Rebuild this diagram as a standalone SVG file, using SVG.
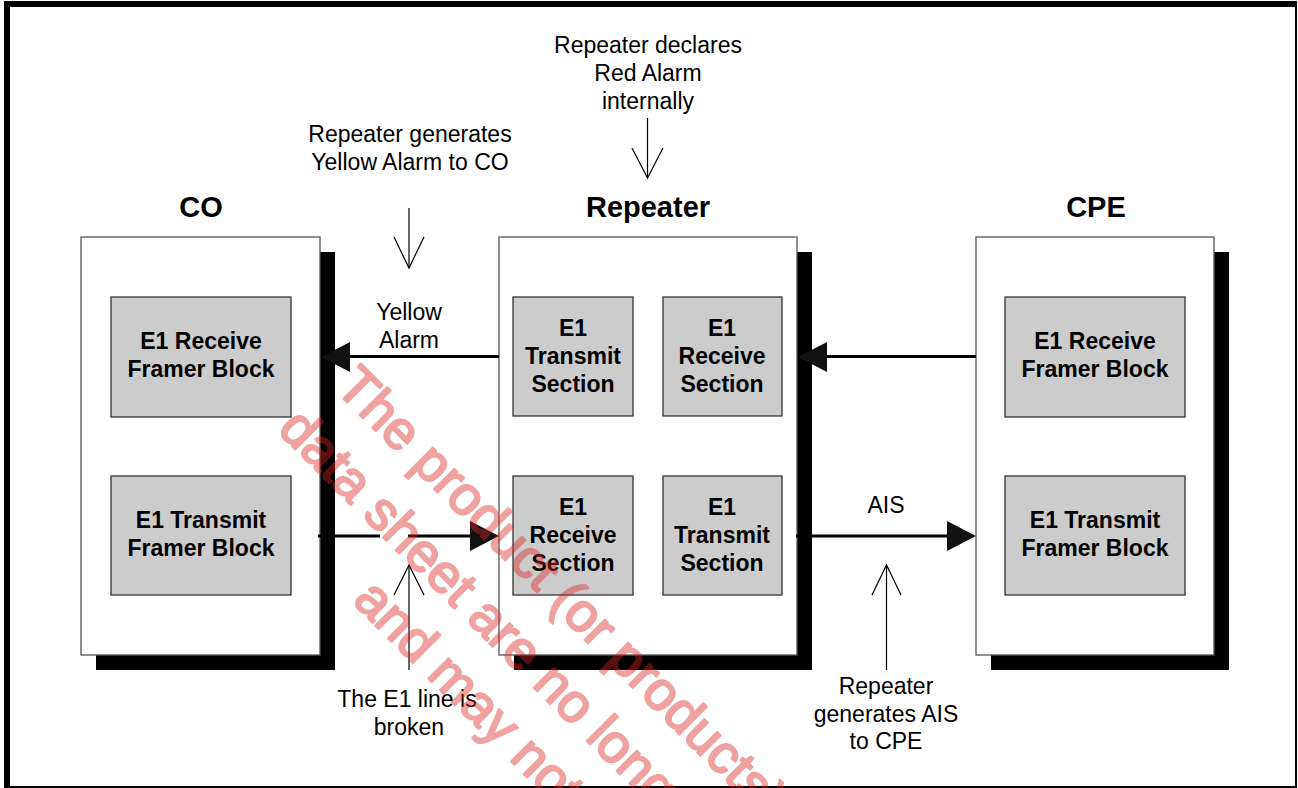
<svg xmlns="http://www.w3.org/2000/svg" width="1298" height="788" viewBox="0 0 1298 788">
<defs>
<style>
.frame{fill:#000}
.shadow{fill:#000}
.outer{fill:#fff;stroke:#555;stroke-width:1.3}
.inner{fill:#cccccc;stroke:#333;stroke-width:1.3}
.title{font-family:"Liberation Sans",Arial,sans-serif;font-weight:bold;font-size:29px;fill:#000;text-anchor:middle}
.blk{font-family:"Liberation Sans",Arial,sans-serif;font-weight:bold;font-size:23px;fill:#000;text-anchor:middle}
.lbl{font-family:"Liberation Sans",Arial,sans-serif;font-size:23px;fill:#000;text-anchor:middle}
.thick{stroke:#000;stroke-width:3;fill:none}
.thin{stroke:#000;stroke-width:1.2;fill:none}
.head{fill:#111}
.wm{font-family:"Liberation Sans",Arial,sans-serif;font-size:54px;fill:#dd2222;stroke:#dd2222;stroke-width:2.2;stroke-linejoin:round}
</style>
</defs>
<rect width="1298" height="788" fill="#fff"/>
<g id="frame">
<rect class="frame" x="4" y="1" width="1293" height="6"/>
<rect class="frame" x="4" y="1" width="6" height="787"/>
<rect class="frame" x="1295" y="1" width="2" height="787"/>
<rect class="frame" x="4" y="786" width="1293" height="2"/>
</g>
<g id="co">
<text class="title" x="201" y="217">CO</text>
<rect class="shadow" x="96" y="252" width="239" height="418"/>
<rect class="outer" x="81" y="237" width="239" height="418"/>
<rect class="inner" x="111" y="297" width="180" height="120"/>
<text class="blk" x="201" y="349">E1 Receive</text>
<text class="blk" x="201" y="377">Framer Block</text>
<rect class="inner" x="111" y="476" width="180" height="119"/>
<text class="blk" x="201" y="528">E1 Transmit</text>
<text class="blk" x="201" y="556">Framer Block</text>
</g>
<g id="repeater">
<text class="title" x="648" y="217">Repeater</text>
<rect class="shadow" x="514" y="252" width="298" height="418"/>
<rect class="outer" x="499" y="237" width="298" height="418"/>
<rect class="inner" x="513" y="297" width="120" height="119"/>
<text class="blk" x="573" y="336">E1</text>
<text class="blk" x="573" y="364">Transmit</text>
<text class="blk" x="573" y="392">Section</text>
<rect class="inner" x="663" y="297" width="119" height="119"/>
<text class="blk" x="722" y="336">E1</text>
<text class="blk" x="722" y="364">Receive</text>
<text class="blk" x="722" y="392">Section</text>
<rect class="inner" x="513" y="476" width="120" height="119"/>
<text class="blk" x="573" y="515">E1</text>
<text class="blk" x="573" y="543">Receive</text>
<text class="blk" x="573" y="571">Section</text>
<rect class="inner" x="663" y="476" width="119" height="119"/>
<text class="blk" x="722" y="515">E1</text>
<text class="blk" x="722" y="543">Transmit</text>
<text class="blk" x="722" y="571">Section</text>
</g>
<g id="cpe">
<text class="title" x="1096" y="217">CPE</text>
<rect class="shadow" x="991" y="252" width="238" height="418"/>
<rect class="outer" x="976" y="237" width="238" height="418"/>
<rect class="inner" x="1005" y="297" width="180" height="120"/>
<text class="blk" x="1095" y="349">E1 Receive</text>
<text class="blk" x="1095" y="377">Framer Block</text>
<rect class="inner" x="1005" y="476" width="180" height="119"/>
<text class="blk" x="1095" y="528">E1 Transmit</text>
<text class="blk" x="1095" y="556">Framer Block</text>
</g>
<g id="connectors">
<line class="thick" x1="499" y1="356.5" x2="345" y2="356.5"/>
<polygon class="head" points="321,357 350,342 350,372"/>
<line class="thick" x1="976" y1="356.5" x2="822" y2="356.5"/>
<polygon class="head" points="798,357 827,342 827,372"/>
<line class="thick" x1="318" y1="536" x2="380" y2="536"/>
<line class="thick" x1="408" y1="536" x2="474" y2="536"/>
<polygon class="head" points="499,536 470,521 470,551"/>
<line class="thick" x1="796" y1="536" x2="950" y2="536"/>
<polygon class="head" points="976,536 947,521 947,551"/>
<line class="thin" x1="647.5" y1="118" x2="647.5" y2="178"/>
<polyline class="thin" points="632,148 647.5,178 663,148"/>
<line class="thin" x1="409" y1="208" x2="409" y2="268"/>
<polyline class="thin" points="394,237 409,268 424,237"/>
<line class="thin" x1="409" y1="670" x2="409" y2="565"/>
<polyline class="thin" points="394,595 409,565 424,595"/>
<line class="thin" x1="886.5" y1="670" x2="886.5" y2="565"/>
<polyline class="thin" points="872,595 886.5,565 901,595"/>
</g>
<g id="labels">
<text class="lbl" x="648" y="53">Repeater declares</text>
<text class="lbl" x="648" y="81">Red Alarm</text>
<text class="lbl" x="648" y="109">internally</text>
<text class="lbl" x="410" y="142">Repeater generates</text>
<text class="lbl" x="410" y="170">Yellow Alarm to CO</text>
<text class="lbl" x="409" y="320">Yellow</text>
<text class="lbl" x="409" y="348">Alarm</text>
<text class="lbl" x="886" y="513">AIS</text>
<text class="lbl" x="407" y="707">The E1 line is</text>
<text class="lbl" x="409" y="735">broken</text>
<text class="lbl" x="886" y="694">Repeater</text>
<text class="lbl" x="886" y="722">generates AIS</text>
<text class="lbl" x="886" y="749">to CPE</text>
</g>
<g id="watermark" transform="rotate(45)" opacity="0.42">
<text class="wm" x="511" y="39">The product (or products)</text>
<text class="wm" x="500" y="109">data sheet are no longer</text>
<text class="wm" x="674" y="177">and may not</text>
</g>
</svg>
